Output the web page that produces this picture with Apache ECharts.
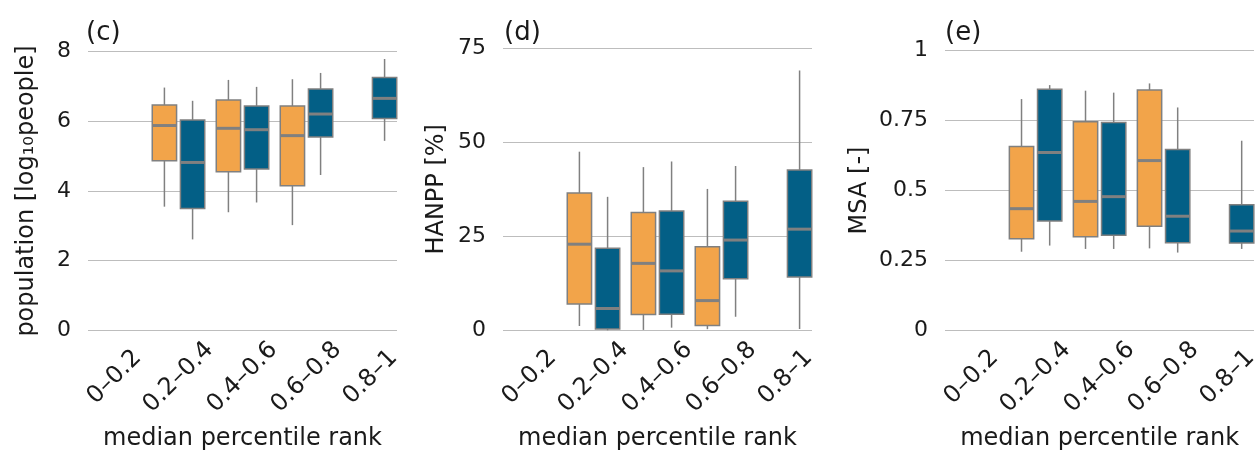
<!DOCTYPE html>
<html>
<head>
<meta charset="utf-8">
<script src="https://cdn.jsdelivr.net/npm/echarts@6/dist/echarts.min.js"></script>
<style>
html,body{margin:0;padding:0;background:#fff;}
#chart{width:1256px;height:452px;}
</style>
</head>
<body>
<div id="chart"></div>
<script>
// ---- data ----
const categories = ['0–0.2', '0.2–0.4', '0.4–0.6', '0.6–0.8', '0.8–1'];
// each entry: [lower whisker, Q1, median, Q3, upper whisker]; null = no data
const popOrange = [null, [3.55, 4.87, 5.88, 6.47, 6.97], [3.39, 4.55, 5.80, 6.61, 7.19], [3.02, 4.15, 5.59, 6.44, 7.21], null];
const popBlue = [null, [2.61, 3.50, 4.82, 6.04, 6.59], [3.67, 4.63, 5.76, 6.44, 6.99], [4.46, 5.55, 6.21, 6.93, 7.39], [5.44, 6.08, 6.66, 7.26, 7.79]];
const hanppOrange = [null, [1.15, 7.0, 22.9, 36.5, 47.5], [0.1, 4.2, 17.8, 31.3, 43.4], [0.3, 1.25, 7.9, 22.2, 37.6], null];
const hanppBlue = [null, [0, 0.35, 5.8, 21.8, 35.5], [0.7, 4.3, 15.8, 31.7, 44.9], [3.6, 13.7, 24.0, 34.3, 43.7], [0.35, 14.2, 26.9, 42.6, 69.1]];
const msaOrange = [null, [0.281, 0.327, 0.435, 0.657, 0.827], [0.291, 0.335, 0.461, 0.746, 0.857], [0.293, 0.372, 0.607, 0.859, 0.883], null];
const msaBlue = [null, [0.303, 0.391, 0.636, 0.862, 0.877], [0.291, 0.340, 0.478, 0.743, 0.850], [0.278, 0.313, 0.408, 0.647, 0.797], [0.291, 0.312, 0.355, 0.449, 0.678]];

const panelTitles = ['(c)', '(d)', '(e)'];
const yNames = ['population [log₁₀people]', 'HANPP [%]', 'MSA [-]'];
const yMin = [0, 0, 0];
const yMax = [8, 75, 1];
const yInterval = [2, 25, 0.25];
const xName = 'median percentile rank';

// ---- style ----
const ORANGE = '#f2a44a';
const BLUE = '#035f86';
const EDGE = '#808080';
const GRIDC = '#bdbdbd';
const TXT = '#1a1a1a';
const FONT = 'DejaVu Sans';
const BOX_W = 0.38;
const OFFSET = 0.22;

// frame grid (split lines / y labels) and box grid (category bands) for each panel
const frames = [
  {left: 88, width: 309, top: 51.7, height: 278.6},
  {left: 503, width: 309, top: 48.3, height: 282},
  {left: 945, width: 309, top: 50.7, height: 279.6}
];
const boxes = [
  {left: 82.5, width: 320},
  {left: 497.5, width: 320},
  {left: 939.6, width: 320}
];
const yNameGap = [49, 54, 73];
const titleLeft = [86, 504, 945];

function toItems(stats) {
  const out = [];
  stats.forEach((s, i) => { if (s) out.push([categories[i]].concat(s)); });
  return out;
}

function makeRender(offset, fill) {
  return function (params, api) {
    const c = api.value(0);
    const p = [1, 2, 3, 4, 5].map(i => api.coord([c, api.value(i)]));
    const band = api.size([1, 0])[0];
    const cx = p[0][0] + offset * band;
    const half = band * BOX_W / 2;
    const ls = {stroke: EDGE, lineWidth: 1.5};
    return {
      type: 'group',
      children: [
        {type: 'line', shape: {x1: cx, y1: p[0][1], x2: cx, y2: p[1][1]}, style: ls},
        {type: 'line', shape: {x1: cx, y1: p[3][1], x2: cx, y2: p[4][1]}, style: ls},
        {type: 'rect', shape: {x: cx - half, y: p[3][1], width: 2 * half, height: p[1][1] - p[3][1]},
          style: {fill: fill, stroke: EDGE, lineWidth: 1.5}},
        {type: 'line', shape: {x1: cx - half, y1: p[2][1], x2: cx + half, y2: p[2][1]},
          style: {stroke: EDGE, lineWidth: 3}}
      ]
    };
  };
}

const grid = [], xAxis = [], yAxis = [], series = [], title = [];
const panelData = [[popOrange, popBlue], [hanppOrange, hanppBlue], [msaOrange, msaBlue]];

for (let k = 0; k < 3; k++) {
  const f = frames[k], b = boxes[k];
  grid.push({left: f.left, width: f.width, top: f.top, height: f.height, containLabel: false, outerBoundsMode: 'none'});
  grid.push({left: b.left, width: b.width, top: f.top, height: f.height, containLabel: false, outerBoundsMode: 'none'});
  const gF = 2 * k, gB = 2 * k + 1;
  xAxis.push({gridIndex: gF, type: 'value', show: false, min: 0, max: 1});
  xAxis.push({
    gridIndex: gB, type: 'category', data: categories, boundaryGap: true,
    axisLine: {show: false}, axisTick: {show: false}, splitLine: {show: false},
    axisLabel: {interval: 0, rotate: 45, align: 'center', verticalAlign: 'middle', margin: 47,
      fontFamily: FONT, fontSize: 24, color: TXT},
    name: xName, nameLocation: 'middle', nameGap: 96, nameMoveOverlap: false,
    nameTextStyle: {fontFamily: FONT, fontSize: 24, color: TXT, verticalAlign: 'top'}
  });
  yAxis.push({
    gridIndex: gF, type: 'value', min: yMin[k], max: yMax[k], interval: yInterval[k],
    axisLine: {show: false}, axisTick: {show: false},
    splitLine: {show: true, lineStyle: {color: GRIDC, width: 1}},
    axisLabel: {margin: 17, fontFamily: FONT, fontSize: 22, color: TXT},
    name: yNames[k], nameLocation: 'middle', nameGap: yNameGap[k], nameRotate: 90, nameMoveOverlap: false,
    nameTextStyle: {fontFamily: FONT, fontSize: 24, color: TXT}
  });
  yAxis.push({gridIndex: gB, type: 'value', min: yMin[k], max: yMax[k], show: false, splitLine: {show: false}});
  const [o, bl] = panelData[k];
  series.push({type: 'custom', xAxisIndex: gB, yAxisIndex: gB, data: toItems(o),
    encode: {x: 0, y: [1, 2, 3, 4, 5]}, renderItem: makeRender(-OFFSET, ORANGE), clip: false, silent: true});
  series.push({type: 'custom', xAxisIndex: gB, yAxisIndex: gB, data: toItems(bl),
    encode: {x: 0, y: [1, 2, 3, 4, 5]}, renderItem: makeRender(OFFSET, BLUE), clip: false, silent: true});
  title.push({text: panelTitles[k], left: titleLeft[k], top: 20, padding: 0,
    textStyle: {fontFamily: FONT, fontSize: 26, fontWeight: 'normal', color: TXT}});
}

const chart = echarts.init(document.getElementById('chart'), null, {renderer: 'canvas'});
chart.setOption({
  backgroundColor: '#ffffff',
  animation: false,
  title: title,
  grid: grid,
  xAxis: xAxis,
  yAxis: yAxis,
  series: series
});
</script>
</body>
</html>
